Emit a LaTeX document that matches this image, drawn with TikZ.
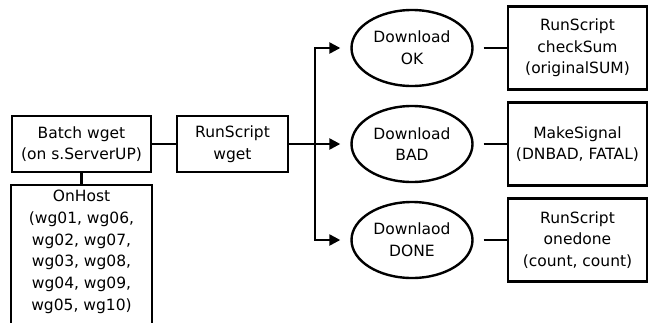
\documentclass[tikz,border=0pt]{standalone}
\usepackage{fontspec}
\setmainfont{DejaVu Sans}
\usetikzlibrary{shapes.geometric}
\usetikzlibrary{arrows.meta}

\begin{document}
\begin{tikzpicture}[
  x=1pt, y=-1pt,
  line width=2.4pt,
  every node/.style={
    font=\fontsize{15.5}{21.7}\selectfont,
    align=center
  },
  jobbox/.style={
    draw,
    rectangle,
    inner sep=0pt
  },
  statenode/.style={
    draw,
    ellipse,
    minimum width=121pt,
    minimum height=76pt,
    inner sep=0pt
  },
  actionbox/.style={
    jobbox,
    minimum width=139pt,
    minimum height=83pt
  },
  flow/.style={
    -{Triangle[length=11pt,width=11pt]},
    shorten >=10pt
  },
  link/.style={
    shorten <=10pt
  }
]
\useasboundingbox (0,0) rectangle (652,322);
\clip (0,0) rectangle (652,322);

% batch job and its hosts
\node[jobbox,minimum width=139pt,minimum height=56pt] (batch) at (81.5,144)
  {Batch wget\\(on s.ServerUP)};
\node[minimum width=139pt,inner sep=4pt,anchor=north] (onhost) at (81.5,185)
  {OnHost\\(wg01, wg06,\\wg02, wg07,\\wg03, wg08,\\wg04, wg09,\\wg05, wg10)};
\draw (onhost.north west) rectangle ([yshift=-40pt]onhost.south east);

\node[jobbox,minimum width=111pt,minimum height=56pt] (wget) at (232.5,144)
  {RunScript\\wget};
\coordinate (fork) at (315,144);

% outcomes of the download
\node[statenode] (ok)   at (412,48)  {Download\\OK};
\node[statenode] (bad)  at (412,144) {Download\\BAD};
\node[statenode] (done) at (412,240) {Downlaod\\DONE};

% what runs after each outcome
\node[actionbox] (checksum) at (577.5,48)  {RunScript\\checkSum\\(originalSUM)};
\node[actionbox] (signal)   at (577.5,144) {MakeSignal\\(DNBAD, FATAL)};
\node[actionbox] (onedone)  at (577.5,240) {RunScript\\onedone\\(count, count)};

\draw (batch.south) -- (onhost.north);
\draw (batch) -- (wget);
\draw (wget.east) -- (fork);
\draw[flow] (fork) |- (ok.west);
\draw[flow] (fork) -- (bad.west);
\draw[flow] (fork) |- (done.west);

\draw[link] (ok.east) -- (checksum.west);
\draw[link] (bad.east) -- (signal.west);
\draw[link] (done.east) -- (onedone.west);
\end{tikzpicture}
\end{document}
